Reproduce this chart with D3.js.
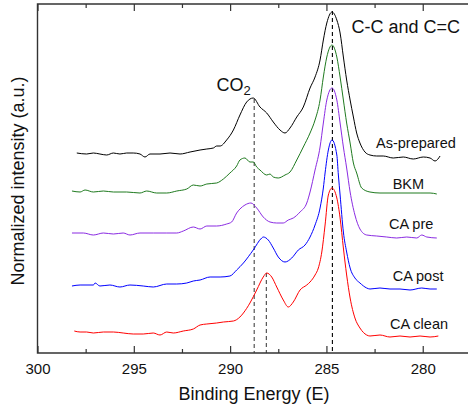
<!DOCTYPE html>
<html>
<head>
<meta charset="utf-8">
<script src="https://cdn.jsdelivr.net/npm/d3@7"></script>
<style>
  body { margin: 0; background: #fff; }
  svg { display: block; font-family: Arial, "Liberation Sans", sans-serif; }
</style>
</head>
<body>
<script>
// spectra: binding energy (eV) and offset intensity (a.u.)
var asPrepE = [297.96,297.45,297.10,296.76,296.41,296.06,295.72,295.37,295.03,294.68,294.42,294.16,293.64,293.12,292.60,292.08,291.56,291.21,290.87,290.70,290.52,290.18,289.83,289.49,289.14,288.80,288.45,288.10,287.76,287.41,287.15,286.89,286.54,286.20,285.85,285.59,285.33,285.16,284.98,284.71,284.46,284.29,284.12,283.95,283.77,283.60,283.43,283.26,283.00,282.74,282.39,282.05,281.53,281.01,280.49,279.97,279.62,279.36,279.10];
var asPrepI = [200,199,200,199,198,200,199,200,200,199,196,199,199,200,199,201,203,204,205,207,207,213,223,238,251,255,246,240,231,223,220,225,236,246,265,276,293,313,330,341,333,320,296,273,253,236,220,210,201,198,197,197,195,196,194,196,195,192,197];

var bkmE = [298.21,297.79,297.53,297.10,296.58,296.06,295.37,294.68,294.33,293.81,293.29,292.77,292.25,291.91,291.56,291.21,290.70,290.35,290.01,289.66,289.49,289.23,288.97,288.80,288.62,288.45,288.10,287.93,287.76,287.50,287.15,286.89,286.54,286.20,285.85,285.59,285.33,285.16,284.98,284.71,284.46,284.29,284.12,283.95,283.77,283.60,283.43,283.17,282.74,282.22,281.70,281.18,280.66,280.14,279.62,279.27];
var bkmI = [162,161,163,161,162,161,161,160,162,160,160,162,164,168,167,169,170,174,180,187,193,195,191,191,186,183,178,179,176,175,178,181,193,206,220,233,253,276,296,308,296,276,253,230,210,190,180,165,161,160,160,160,160,160,160,159];

var caPreE = [298.21,297.62,297.10,296.58,296.06,295.55,295.20,294.68,293.99,293.29,292.77,292.43,291.91,291.56,291.21,290.70,290.18,289.92,289.66,289.49,289.23,288.92,288.62,288.28,287.93,287.58,287.24,286.98,286.72,286.37,286.02,285.85,285.59,285.33,285.16,284.98,284.71,284.46,284.29,284.12,283.95,283.77,283.52,283.26,282.91,282.39,281.87,281.35,280.83,280.31,280.05,279.79,279.27];
var caPreI = [120,120,118,120,119,120,118,120,120,120,120,122,126,124,127,127,129,131,140,144,148,150,145,136,131,130,130,133,135,141,150,161,183,206,230,253,265,253,230,206,185,161,138,124,118,117,116,115,116,115,118,116,115];

var caPostE = [298.21,297.79,297.10,297.01,296.76,296.24,295.72,295.20,294.51,293.99,293.29,292.77,292.25,291.91,291.56,291.04,290.52,290.01,289.66,289.31,288.80,288.36,288.28,288.02,287.76,287.50,287.15,286.80,286.46,286.11,285.85,285.59,285.33,285.16,285.07,284.90,284.71,284.46,284.38,284.29,284.12,283.95,283.77,283.52,283.26,282.91,282.74,282.22,281.70,281.18,280.66,280.05,279.62,279.27];
var caPostI = [67,68,68,70,67,68,66,68,67,66,69,69,70,72,73,76,76,77,83,90,103,115,116,113,105,96,91,95,103,108,116,128,145,165,180,203,213,198,178,158,121,101,85,75,70,65,64,65,64,64,63,65,64,64];

var caCleanE = [298.09,297.79,297.45,297.10,296.58,296.06,295.55,295.03,294.51,293.99,293.64,293.29,292.95,292.43,291.91,291.56,291.21,290.70,290.35,289.83,289.49,289.31,288.97,288.62,288.28,288.10,287.84,287.58,287.24,286.98,286.72,286.37,286.02,285.85,285.59,285.42,285.24,285.07,284.90,284.71,284.46,284.29,284.12,283.95,283.77,283.52,283.26,282.91,282.74,282.22,281.70,281.18,280.66,280.14,279.62,279.19];
var caCleanI = [22,21,21,20,21,21,20,19,19,20,18,21,20,22,24,28,29,30,31,32,36,40,50,63,76,80,76,66,53,46,51,63,68,71,78,85,101,128,158,165,155,135,105,78,55,35,25,18,17,18,16,17,16,17,16,17];

var seriesNames = ["As-prepared", "BKM", "CA pre", "CA post", "CA clean"];
var seriesColors = ["#000000", "#1f7a1f", "#8a2be2", "#0000ff", "#ff0000"];

// dashed marker lines: energy and the intensity they rise to
var markerE = [288.75, 288.12, 284.69];
var markerTop = [254, 80, 342];

var majorTicks = [300, 295, 290, 285, 280];
var minorTicks = [297.5, 292.5, 287.5, 282.5];

window.onload = function () {
    var W = 468, H = 410;
    var left = 37.5, top = 4, bottom = 353, right = 468;

    var svg = d3.select("body").append("svg")
        .attr("width", W)
        .attr("height", H);

    var x = d3.scaleLinear().domain([300, 277.65]).range([left, right]);
    var y = d3.scaleLinear().domain([0, 349]).range([bottom, top]);

    var series = [
        {E: asPrepE, I: asPrepI},
        {E: bkmE, I: bkmI},
        {E: caPreE, I: caPreI},
        {E: caPostE, I: caPostI},
        {E: caCleanE, I: caCleanI}
    ];

    var line = d3.line()
        .curve(d3.curveMonotoneX)
        .x(function (d) { return x(d[0]); })
        .y(function (d) { return y(d[1]); });

    // dashed guides behind the curves
    svg.selectAll(".guide")
        .data(markerE)
        .enter().append("line")
        .attr("class", "guide")
        .attr("x1", function (d) { return x(d); })
        .attr("x2", function (d) { return x(d); })
        .attr("y1", function (d, i) { return y(markerTop[i]); })
        .attr("y2", bottom)
        .attr("stroke", function (d, i) { return i < 2 ? "#444" : "#000"; })
        .attr("stroke-width", 1.1)
        .attr("stroke-dasharray", "4,3");

    series.forEach(function (s, k) {
        var pts = s.E.map(function (e, i) { return [e, s.I[i]]; });
        svg.append("path")
            .datum(pts)
            .attr("d", line)
            .attr("fill", "none")
            .attr("stroke", seriesColors[k])
            .attr("stroke-width", 1);
    });

    // bottom axis, ticks pointing in
    var xAxis = svg.append("g")
        .attr("transform", "translate(0," + bottom + ")")
        .call(d3.axisBottom(x).tickValues(majorTicks).tickSize(-7).tickPadding(10)
            .tickFormat(d3.format("d")));
    xAxis.selectAll("text").style("font-size", "15px").attr("fill", "#111");
    svg.append("g")
        .attr("transform", "translate(0," + bottom + ")")
        .call(d3.axisBottom(x).tickValues(minorTicks).tickSize(-4).tickFormat(""));

    // mirrored top axis
    svg.append("g")
        .attr("transform", "translate(0," + top + ")")
        .call(d3.axisTop(x).tickValues(majorTicks).tickSize(-7).tickFormat(""));
    svg.append("g")
        .attr("transform", "translate(0," + top + ")")
        .call(d3.axisTop(x).tickValues(minorTicks).tickSize(-4).tickFormat(""));

    svg.selectAll(".domain").remove();
    svg.selectAll(".tick line").attr("stroke", "#333").attr("stroke-width", 1.2);

    // frame
    svg.append("path")
        .attr("d", "M" + right + "," + top + "H" + left + "V" + bottom + "H" + right)
        .attr("fill", "none")
        .attr("stroke", "#333")
        .attr("stroke-width", 1.4);

    // series labels
    var labelPos = [[376, 147.5], [392.7, 188.5], [389, 229.3], [392.7, 281], [390, 329.3]];
    seriesNames.forEach(function (n, i) {
        svg.append("text")
            .attr("x", labelPos[i][0])
            .attr("y", labelPos[i][1])
            .style("font-size", "14.5px")
            .attr("fill", "#111")
            .text(n);
    });

    // peak annotations
    svg.append("text")
        .attr("x", 351.5)
        .attr("y", 33)
        .style("font-size", "18px")
        .attr("fill", "#111")
        .text("C-C and C=C");

    var co2 = svg.append("text")
        .attr("x", 216.5)
        .attr("y", 91)
        .style("font-size", "18px")
        .attr("fill", "#111");
    co2.append("tspan").text("CO");
    co2.append("tspan").attr("dy", 4).style("font-size", "13px").text("2");

    // axis titles
    svg.append("text")
        .attr("x", 254)
        .attr("y", 400)
        .style("text-anchor", "middle")
        .style("font-size", "18px")
        .attr("fill", "#111")
        .text("Binding Energy (E)");

    svg.append("text")
        .attr("transform", "rotate(-90)")
        .attr("x", -181)
        .attr("y", 24)
        .style("text-anchor", "middle")
        .style("font-size", "18px")
        .attr("fill", "#111")
        .text("Normalized intensity (a.u.)");
};
</script>
</body>
</html>
